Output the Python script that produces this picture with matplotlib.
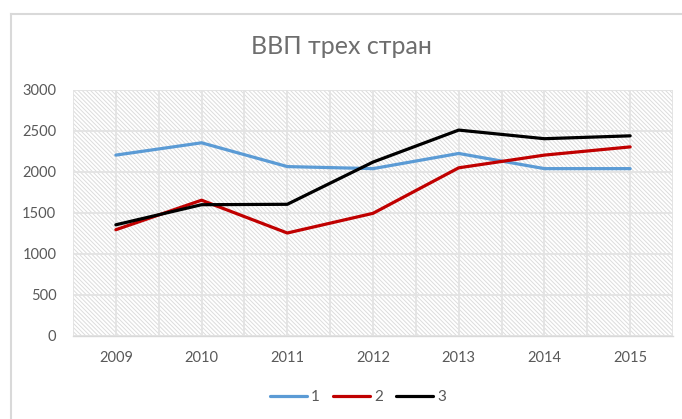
import matplotlib.pyplot as plt
from matplotlib.lines import Line2D
from matplotlib.patches import Rectangle

plt.rcParams["font.family"] = ["Lato", "DejaVu Sans"]
plt.rcParams["hatch.color"] = "#DCDCDC"
plt.rcParams["hatch.linewidth"] = 0.7

years = ["2009", "2010", "2011", "2012", "2013", "2014", "2015"]
series_names = ["1", "2", "3"]
gdp_1 = [2200, 2350, 2060, 2035, 2220, 2035, 2035]
gdp_2 = [1290, 1650, 1250, 1490, 2045, 2200, 2300]
gdp_3 = [1350, 1595, 1600, 2115, 2505, 2400, 2435]
yticks = [0, 500, 1000, 1500, 2000, 2500, 3000]

colors = ["#5B9BD5", "#C00000", "#000000"]
text_color = "#595959"
grid_color = "#E3E3E3"

fig = plt.figure(figsize=(6.82, 4.19), dpi=100)
ax = fig.add_axes([73 / 682, 1 - 335.5 / 419, 600 / 682, 246 / 419])

# hatched plot background
ax.add_patch(Rectangle((0, 0), 1, 1, transform=ax.transAxes, facecolor="white",
                       edgecolor="#DCDCDC", hatch="\\" * 8, linewidth=0, zorder=0))

x = list(range(len(years)))
for vals, name, c in zip([gdp_1, gdp_2, gdp_3], series_names, colors):
    ax.plot(x, vals, color=c, lw=2.3, label=name, solid_capstyle="round",
            solid_joinstyle="round", zorder=3)

ax.set_xlim(-0.5, len(years) - 0.5)
ax.set_ylim(0, 3000)
ax.set_yticks(yticks)
ax.set_yticklabels([str(v) for v in yticks])
ax.set_xticks(x)
ax.set_xticklabels(years)
ax.set_xticks([i - 0.5 for i in range(len(years) + 1)], minor=True)

ax.grid(True, which="major", color=grid_color, lw=1.3, zorder=1)
ax.grid(True, which="minor", axis="x", color=grid_color, lw=1.3, zorder=1)
ax.set_axisbelow(True)

for side in ["top", "right", "left"]:
    ax.spines[side].set_visible(False)
ax.spines["bottom"].set_color("#D9D9D9")
ax.spines["bottom"].set_linewidth(1.0)

ax.tick_params(which="both", length=0, colors=text_color, labelsize=10.5)
ax.tick_params(axis="x", pad=11)
ax.tick_params(axis="y", pad=12)

fig.text(0.5, 1 - 47 / 419, "ВВП трех стран", ha="center", va="center",
         fontsize=18, color="#6E6E6E")

leg = ax.legend(loc="center", bbox_to_anchor=(0.525, 1 - 397 / 419),
                bbox_transform=fig.transFigure, ncol=3, frameon=False,
                fontsize=11, handlelength=2.4, handletextpad=0.25,
                columnspacing=0.9)
for t in leg.get_texts():
    t.set_color(text_color)

# outer chart border (only top and left visible in the crop)
fig.add_artist(Line2D([11 / 682, 11 / 682], [0, 1 - 14 / 419],
                      transform=fig.transFigure, color="#D9D9D9", lw=1.5))
fig.add_artist(Line2D([11 / 682, 1], [1 - 14 / 419, 1 - 14 / 419],
                      transform=fig.transFigure, color="#D9D9D9", lw=1.5))

fig.savefig("out.png", dpi=100)
